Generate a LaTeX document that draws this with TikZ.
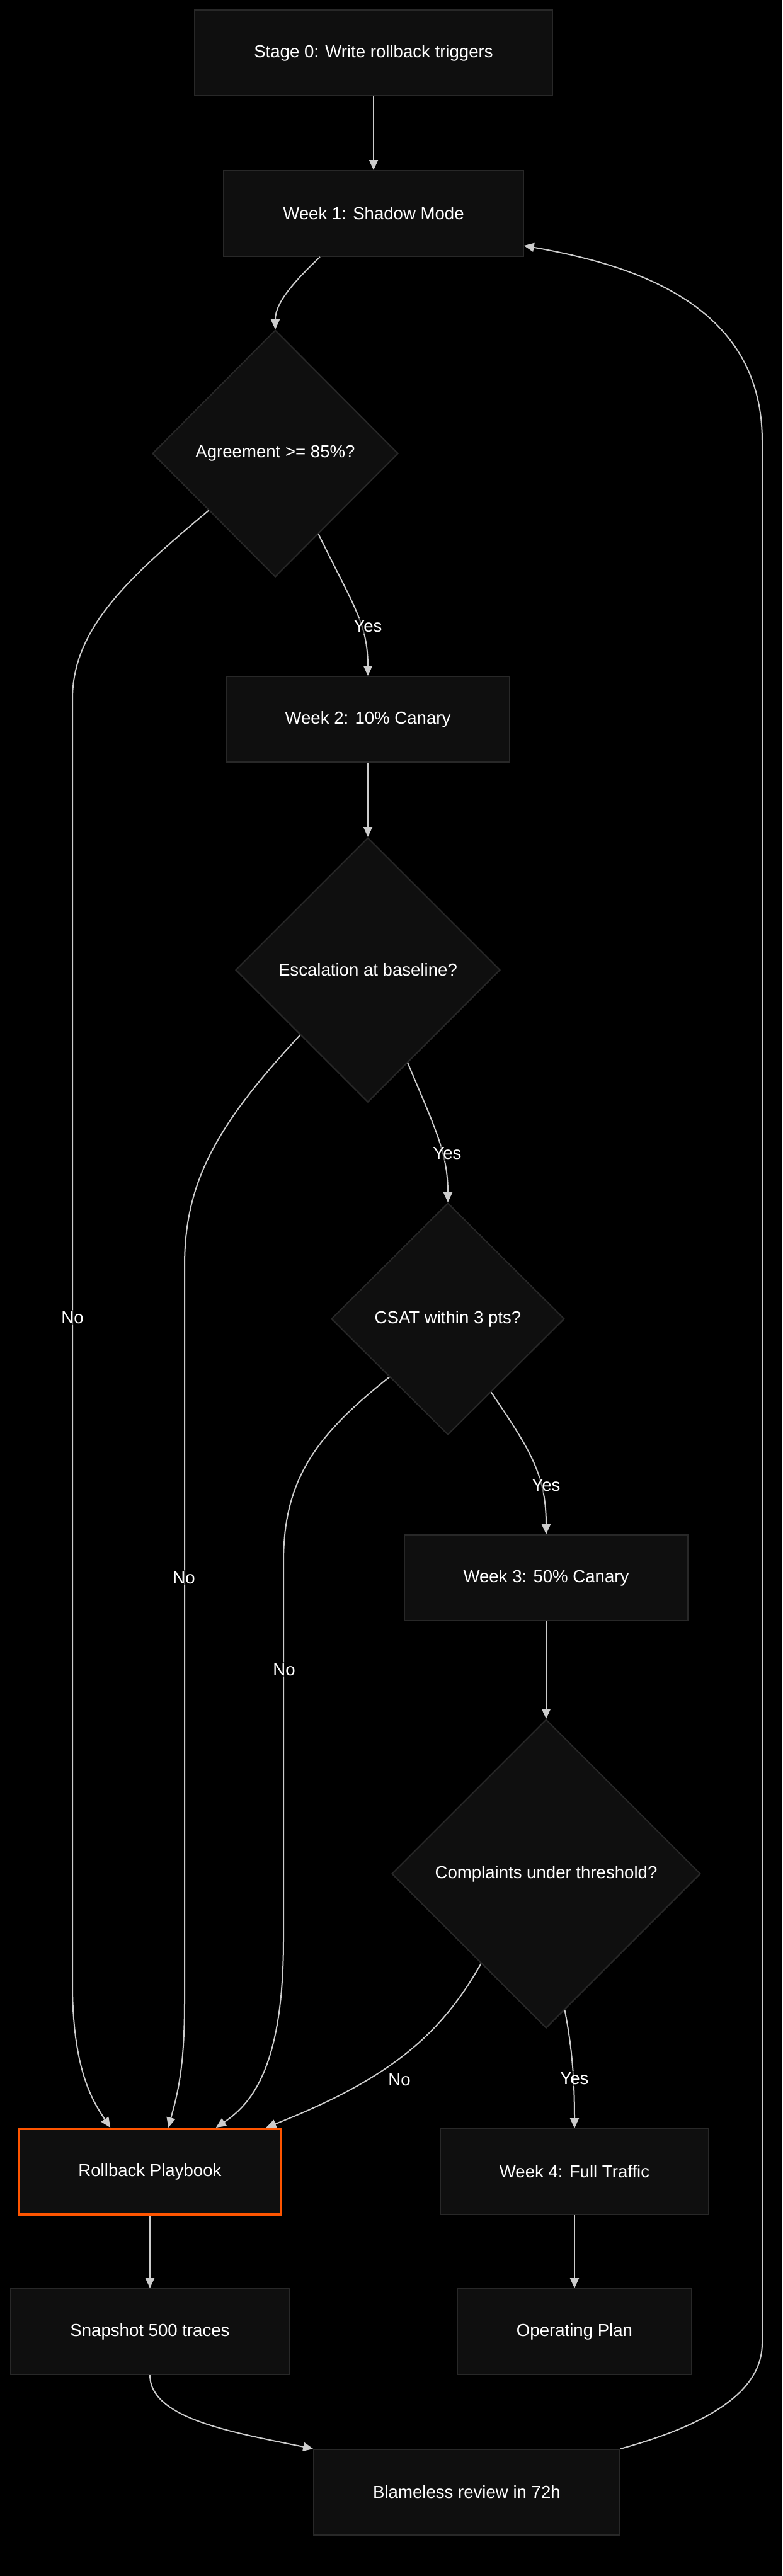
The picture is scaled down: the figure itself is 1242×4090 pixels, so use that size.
\documentclass[tikz,border=0pt]{standalone}
\usepackage{fontspec}
\setmainfont{Liberation Sans}
\usetikzlibrary{shapes.geometric,calc,arrows.meta}
\definecolor{nodefill}{RGB}{15,15,15}
\definecolor{nodeline}{RGB}{40,40,40}
\definecolor{edgegray}{RGB}{204,204,204}
\definecolor{alertorange}{RGB}{255,85,0}

\begin{document}
\begin{tikzpicture}[x=0.5pt, y=-0.5pt,
  stagebox/.style={draw=nodeline, line width=1pt, fill=nodefill, text=white,
    inner xsep=47pt, minimum height=68pt, font=\fontsize{13.8pt}{16pt}\selectfont},
  decide/.style={diamond, draw=nodeline, line width=1pt, fill=nodefill, text=white,
    inner sep=0pt, font=\fontsize{13.8pt}{16pt}\selectfont},
  rollbox/.style={stagebox, draw=alertorange, line width=2pt},
  lbl/.style={font=\fontsize{13.8pt}{16pt}\selectfont, text=white, fill=black,
    fill opacity=0.5, text opacity=1, inner sep=1pt},
  arr/.style={-{Triangle[length=8pt, width=7pt]}, line width=1pt, edgegray},
]
  \fill[black] (0,0) rectangle (1242,4090);
  \useasboundingbox (0,0) rectangle (1242,4090);

  \node[stagebox] (stage0) at (593,84) {Stage 0: Write rollback triggers};
  \node[stagebox] (week1) at (593,339) {Week 1: Shadow Mode};
  \node[decide, minimum width=195pt, minimum height=196pt] (agree) at (437,720) {Agreement >= 85\%?};
  \node[stagebox] (week2) at (584,1142) {Week 2: 10\% Canary};
  \node[decide, minimum width=210pt, minimum height=210pt] (escal) at (584,1540) {Escalation at baseline?};
  \node[decide, minimum width=185pt, minimum height=184pt] (csat) at (711,2094) {CSAT within 3 pts?};
  \node[stagebox] (week3) at (867,2505) {Week 3: 50\% Canary};
  \node[decide, minimum width=245pt, minimum height=245pt] (compl) at (867,2975) {Complaints under threshold?};
  \node[rollbox] (rollback) at (238,3448) {Rollback Playbook};
  \node[stagebox] (week4) at (912,3448) {Week 4: Full Traffic};
  \node[stagebox] (snap) at (238,3702) {Snapshot 500 traces};
  \node[stagebox] (plan) at (912,3702) {Operating Plan};
  \node[stagebox] (review) at (741,3957) {Blameless review in 72h};

  \draw[arr] (stage0) -- (week1);
  \draw[arr] ($(week1.south)+(-85,0)$) .. controls (468,446) and (437,480) .. (agree.north);
  \draw[arr] ($(agree.east)!0.65!(agree.south)$) .. controls (560,960) and (584,990) .. (week2.north);
  \draw[arr] ($(agree.west)!0.46!(agree.south)$) .. controls (200,920) and (115,1000) .. (115,1110)
    -- (115,3150) .. controls (115,3290) and (150,3340) .. ($(rollback.north west)!0.35!(rollback.north east)$);
  \draw[arr] (week2) -- (escal);
  \draw[arr] ($(escal.east)!0.70!(escal.south)$) .. controls (690,1790) and (711,1830) .. (csat.north);
  \draw[arr] ($(escal.west)!0.49!(escal.south)$) .. controls (340,1790) and (293,1880) .. (293,2010)
    -- (293,3180) .. controls (293,3290) and (280,3330) .. ($(rollback.north west)!0.57!(rollback.north east)$);
  \draw[arr] ($(csat.east)!0.63!(csat.south)$) .. controls (840,2300) and (867,2340) .. (week3.north);
  \draw[arr] ($(csat.west)!0.50!(csat.south)$) .. controls (500,2280) and (450,2350) .. (450,2480)
    -- (450,3080) .. controls (450,3280) and (400,3340) .. ($(rollback.north west)!0.75!(rollback.north east)$);
  \draw[arr] (week3) -- (compl);
  \draw[arr] ($(compl.west)!0.58!(compl.south)$) .. controls (700,3230) and (620,3300) .. ($(rollback.north west)!0.94!(rollback.north east)$);
  \draw[arr] ($(compl.east)!0.88!(compl.south)$) .. controls (908,3250) and (912,3300) .. (week4.north);
  \draw[arr] (rollback) -- (snap);
  \draw[arr] (week4) -- (plan);
  \draw[arr] (snap.south) .. controls (238,3840) and (370,3862) .. (review.north west);
  \draw[arr] (review.north east) .. controls (1130,3848) and (1210,3795) .. (1210,3720)
    -- (1210,700) .. controls (1210,480) and (1000,420) .. ($(week1.south east)+(0,-18)$);

  \node[lbl] (yes1) at (584,994) {Yes};
  \node[lbl] (no1) at (115,2092) {No};
  \node[lbl] (yes2) at (710,1831) {Yes};
  \node[lbl] (no2) at (292,2505) {No};
  \node[lbl] (yes3) at (867,2358) {Yes};
  \node[lbl] (no3) at (451,2651) {No};
  \node[lbl] (no4) at (634,3302) {No};
  \node[lbl] (yes4) at (912,3300) {Yes};
\end{tikzpicture}
\end{document}
